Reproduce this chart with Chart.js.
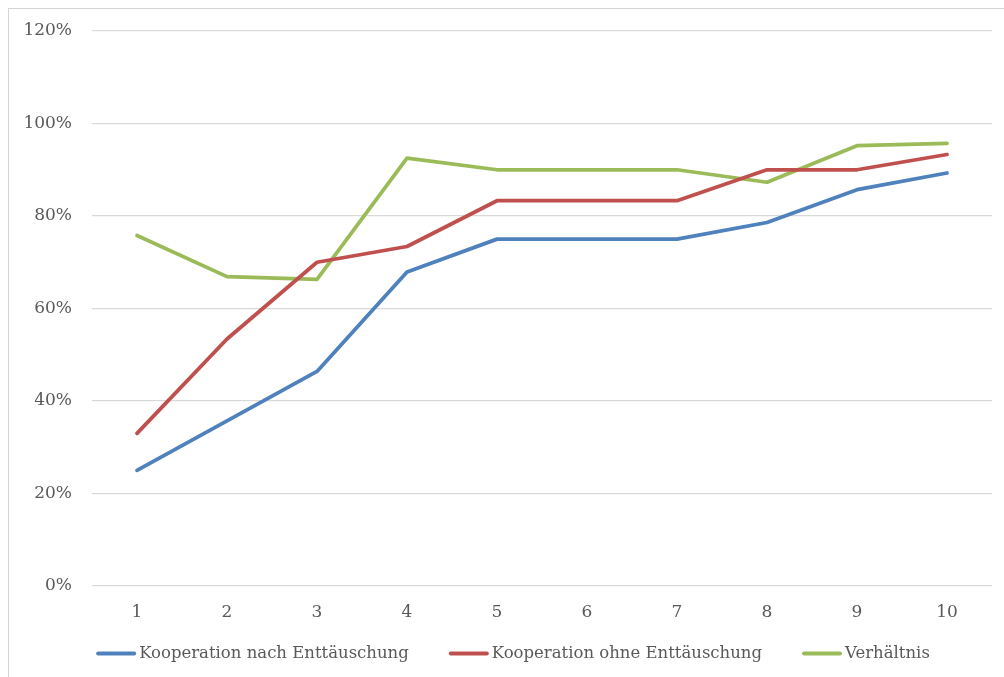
<!DOCTYPE html>
<html lang="de">
<head>
<meta charset="utf-8">
<title>Kooperation</title>
<script src="https://cdn.jsdelivr.net/npm/chart.js@4/dist/chart.umd.min.js"></script>
<style>
  html, body { margin: 0; padding: 0; background: #ffffff; overflow: hidden; }
  #wrap { position: relative; width: 1004px; height: 677px; }
  #frame { position: absolute; left: 8px; top: 8px; width: 1100px; height: 800px;
           border: 1px solid #d4d4d4; box-sizing: border-box; }
  #chart { position: absolute; left: 0; top: 0; }
</style>
</head>
<body>
<div id="wrap">
  <div id="frame"></div>
  <canvas id="chart" width="1004" height="677"></canvas>
</div>
<script>
// Runden 1–10
const categories = ['1', '2', '3', '4', '5', '6', '7', '8', '9', '10'];

// Anteile in Prozent
const kooperationNachEnttaeuschung = [25.0, 35.7, 46.4, 67.9, 75.0, 75.0, 75.0, 78.6, 85.7, 89.3];
const kooperationOhneEnttaeuschung = [33.0, 53.4, 70.0, 73.4, 83.3, 83.3, 83.3, 90.0, 90.0, 93.3];
const verhaeltnis = [75.8, 66.9, 66.3, 92.5, 90.0, 90.0, 90.0, 87.3, 95.2, 95.7];

const seriesNames = ['Kooperation nach Enttäuschung', 'Kooperation ohne Enttäuschung', 'Verhältnis'];
const yTicks = [0, 20, 40, 60, 80, 100, 120];

const FONT = '"DejaVu Serif", "Liberation Serif", serif';
const TEXT = '#595959';
const COLORS = ['#4f81bd', '#c0504d', '#9bbb59'];

// Legend drawn below the axis: short line sample followed directly by the label
const lineLegend = {
  id: 'lineLegend',
  afterDraw(chart) {
    const ctx = chart.ctx;
    const sample = 40, gapText = 3, gapItem = 40;
    ctx.save();
    ctx.font = '16.5px ' + FONT;
    const items = chart.data.datasets.map(ds => ({
      label: ds.label, color: ds.borderColor, w: ctx.measureText(ds.label).width
    }));
    const total = items.reduce((s, it) => s + sample + gapText + it.w, 0) + gapItem * (items.length - 1);
    let x = 513 - total / 2;
    const yLine = 653.5, yText = 658;
    items.forEach(it => {
      ctx.strokeStyle = it.color;
      ctx.lineWidth = 4;
      ctx.lineCap = 'round';
      ctx.beginPath();
      ctx.moveTo(x + 2, yLine);
      ctx.lineTo(x + sample - 2, yLine);
      ctx.stroke();
      ctx.fillStyle = TEXT;
      ctx.textBaseline = 'alphabetic';
      ctx.textAlign = 'left';
      ctx.fillText(it.label, x + sample + gapText, yText);
      x += sample + gapText + it.w + gapItem;
    });
    ctx.restore();
  }
};

const seriesData = [kooperationNachEnttaeuschung, kooperationOhneEnttaeuschung, verhaeltnis];

new Chart(document.getElementById('chart'), {
  type: 'line',
  data: {
    labels: categories,
    datasets: seriesData.map((values, i) => ({
      label: seriesNames[i],
      data: values,
      borderColor: COLORS[i],
      backgroundColor: COLORS[i],
      borderWidth: 3.75,
      borderJoinStyle: 'round',
      borderCapStyle: 'round',
      pointRadius: 0,
      tension: 0,
      fill: false
    }))
  },
  options: {
    responsive: false,
    animation: false,
    layout: { padding: { left: 10, right: 12, top: 31, bottom: 51 } },
    plugins: {
      legend: { display: false },
      tooltip: { enabled: false }
    },
    scales: {
      x: {
        type: 'category',
        offset: true,
        grid: { display: false, drawTicks: false },
        border: { display: false },
        ticks: { color: TEXT, font: { family: FONT, size: 17 }, padding: 16, maxRotation: 0 },
        afterFit(scale) { scale.height = 40; }
      },
      y: {
        min: 0,
        max: 120,
        afterBuildTicks(scale) { scale.ticks = yTicks.map(v => ({ value: v })); },
        grid: { color: '#d9d9d9', lineWidth: 1.25, drawTicks: false },
        border: { display: false },
        ticks: {
          color: TEXT,
          font: { family: FONT, size: 17 },
          padding: 20,
          callback: v => v + '%'
        },
        afterFit(scale) { scale.width = 82; }
      }
    }
  },
  plugins: [lineLegend]
});
</script>
</body>
</html>
